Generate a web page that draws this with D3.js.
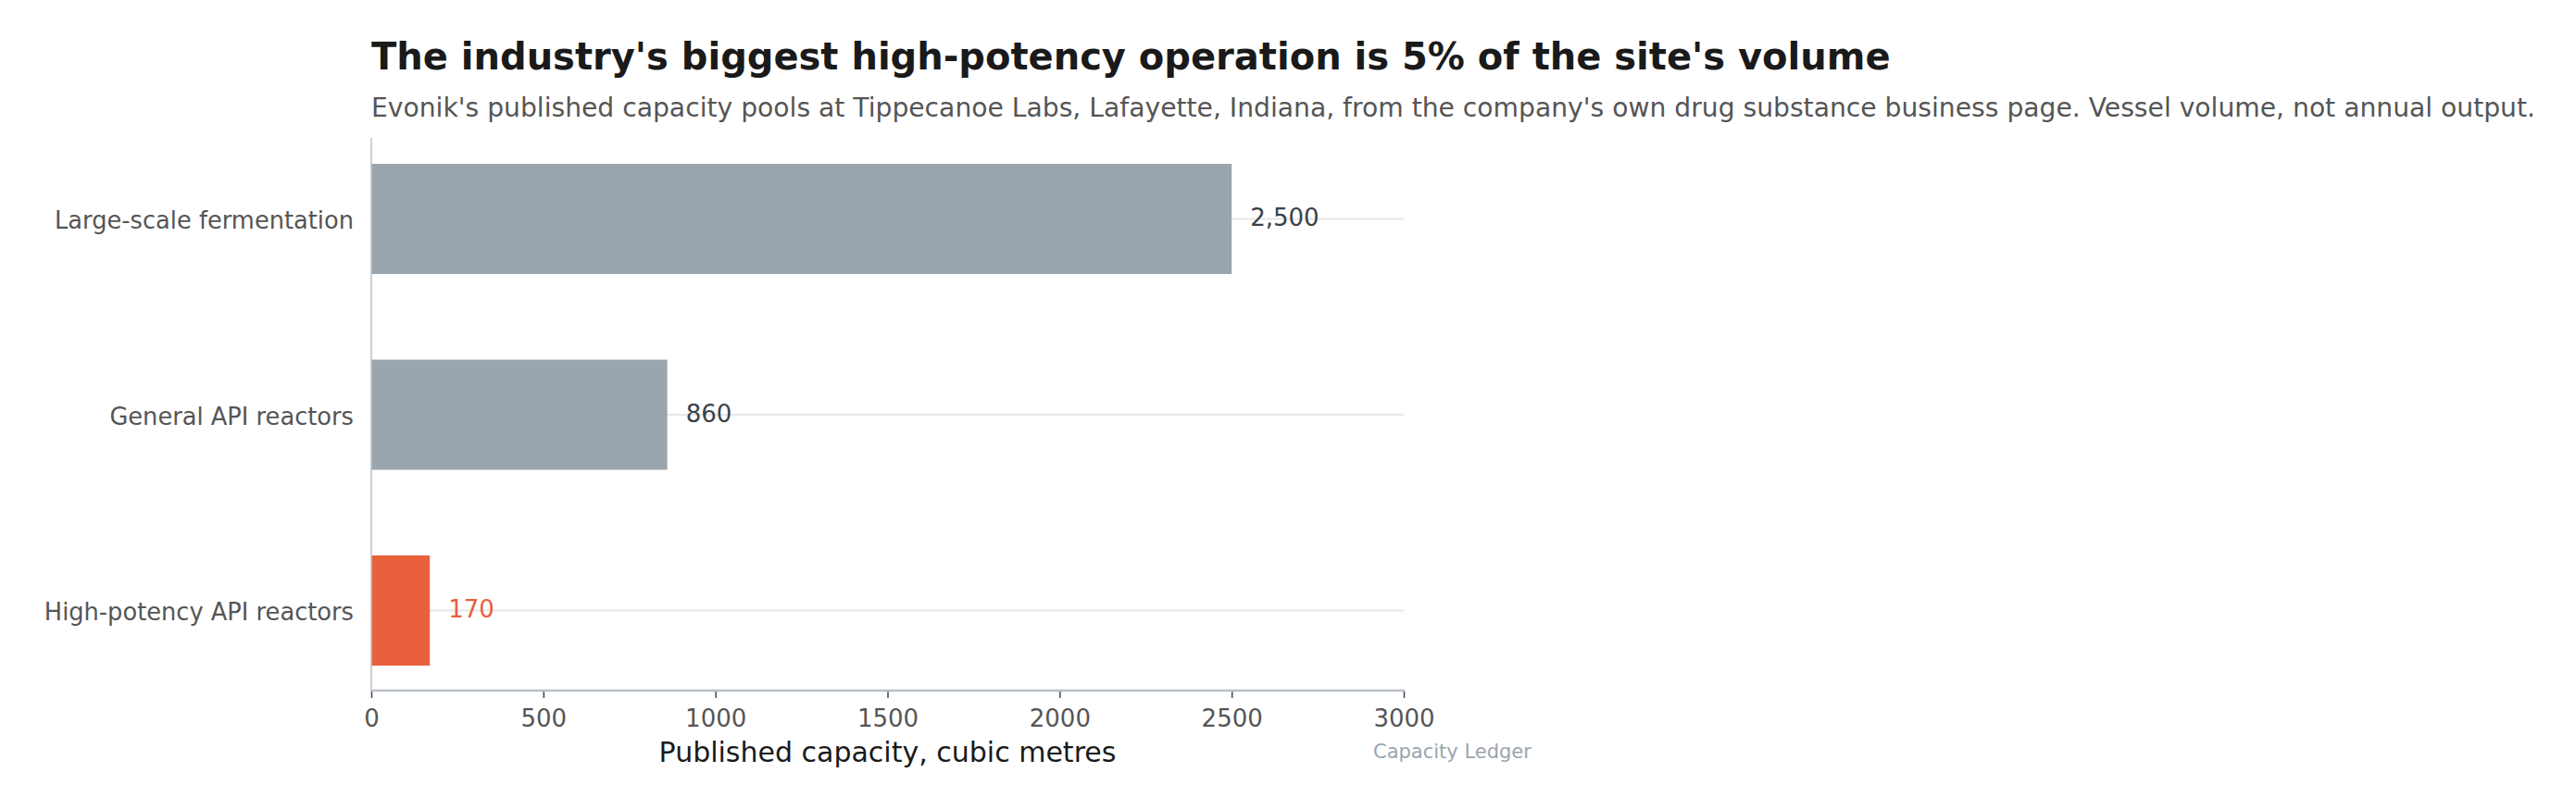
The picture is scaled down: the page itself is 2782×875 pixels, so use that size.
<!DOCTYPE html>
<html>
<head>
<meta charset="utf-8">
<script src="https://cdn.jsdelivr.net/npm/d3@7"></script>
<style>
  html, body { margin: 0; padding: 0; background: #ffffff; }
  svg { display: block; font-family: "DejaVu Sans", sans-serif; }
</style>
</head>
<body>
<script>
const categories = ["Large-scale fermentation", "General API reactors", "High-potency API reactors"];
const capacities = [2500, 860, 170];
const highlight = [false, false, true];
const xTicks = [0, 500, 1000, 1500, 2000, 2500, 3000];
const valueLabels = ["2,500", "860", "170"];

const W = 2782, H = 875;
const plotLeft = 401, plotRight = 1516, plotTop = 149, plotBottom = 746;

const svg = d3.select("body").append("svg").attr("width", W).attr("height", H);
svg.append("rect").attr("width", W).attr("height", H).attr("fill", "#ffffff");

const x = d3.scaleLinear().domain([0, 3000]).range([plotLeft, plotRight]);
const y = d3.scaleBand().domain(categories).range([130.75, 765.25])
  .paddingInner(0.4374).paddingOuter(0.2187);

// grid lines at category centres
svg.append("g").selectAll("line").data(categories).join("line")
  .attr("x1", plotLeft).attr("x2", plotRight)
  .attr("y1", d => y(d) + y.bandwidth() / 2).attr("y2", d => y(d) + y.bandwidth() / 2)
  .attr("stroke", "#e6e6e6").attr("stroke-width", 2);

// bars
svg.append("g").selectAll("rect").data(categories).join("rect")
  .attr("x", x(0))
  .attr("y", d => y(d))
  .attr("width", (d, i) => x(capacities[i]) - x(0))
  .attr("height", y.bandwidth())
  .attr("fill", (d, i) => highlight[i] ? "#e8603c" : "#9ba5ad");

// value labels
svg.append("g").selectAll("text").data(categories).join("text")
  .attr("x", (d, i) => x(capacities[i]) + 20)
  .attr("y", d => y(d) + y.bandwidth() / 2 + 7.5)
  .attr("font-size", 26)
  .attr("fill", (d, i) => highlight[i] ? "#e8603c" : "#37424a")
  .text((d, i) => valueLabels[i]);

// x axis
const xAxis = d3.axisBottom(x).tickValues(xTicks).tickFormat(d3.format("d")).tickSize(8).tickPadding(13);
const gx = svg.append("g").attr("transform", `translate(0,${plotBottom})`).call(xAxis);
gx.select(".domain").remove();
gx.selectAll(".tick line").attr("stroke", "#444444").attr("stroke-width", 1.5);
gx.selectAll(".tick text").attr("font-size", 26).attr("fill", "#555555")
  .attr("font-family", "DejaVu Sans, sans-serif");

// y axis labels
const yAxis = d3.axisLeft(y).tickSize(0).tickPadding(19);
const gy = svg.append("g").attr("transform", `translate(${plotLeft},0)`).call(yAxis);
gy.select(".domain").remove();
gy.selectAll(".tick text").attr("font-size", 25.7).attr("fill", "#555555")
  .attr("font-family", "DejaVu Sans, sans-serif").attr("dy", "0.42em");

// spines
svg.append("line").attr("x1", plotLeft).attr("x2", plotLeft).attr("y1", plotTop).attr("y2", plotBottom)
  .attr("stroke", "#b8c0c8").attr("stroke-width", 1.5);
svg.append("line").attr("x1", plotLeft).attr("x2", plotRight + 1).attr("y1", plotBottom).attr("y2", plotBottom)
  .attr("stroke", "#b8c0c8").attr("stroke-width", 2.5);

// titles
svg.append("text").attr("x", 401).attr("y", 75).attr("font-size", 40).attr("font-weight", "bold")
  .attr("fill", "#1a1a1a")
  .text("The industry's biggest high-potency operation is 5% of the site's volume");
svg.append("text").attr("x", 401).attr("y", 126).attr("font-size", 28.2).attr("fill", "#555555")
  .text("Evonik's published capacity pools at Tippecanoe Labs, Lafayette, Indiana, from the company's own drug substance business page. Vessel volume, not annual output.");

// axis title
svg.append("text").attr("x", (plotLeft + plotRight) / 2).attr("y", 823).attr("text-anchor", "middle")
  .attr("font-size", 30).attr("fill", "#1a1a1a").text("Published capacity, cubic metres");

// source
svg.append("text").attr("x", 1483).attr("y", 818.5).attr("font-size", 21).attr("fill", "#9aa5ae")
  .text("Capacity Ledger");
</script>
</body>
</html>
